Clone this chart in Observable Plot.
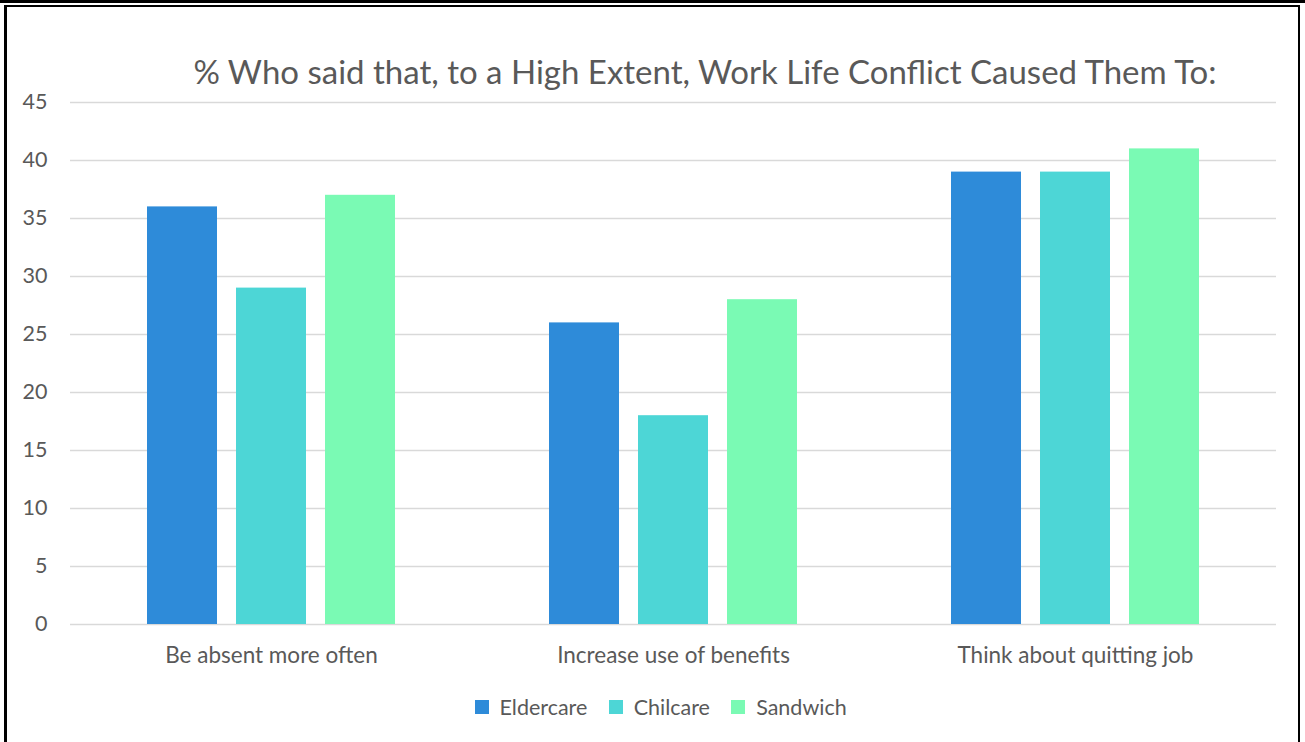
<!DOCTYPE html>
<html>
<head>
<meta charset="utf-8">
<script src="https://cdn.jsdelivr.net/npm/d3@7"></script>
<script src="https://cdn.jsdelivr.net/npm/@observablehq/plot@0.6"></script>
<style>
  html, body { margin: 0; padding: 0; background: #fff; }
  body { width: 1305px; height: 742px; position: relative; overflow: hidden; font-family: Lato, "Open Sans", sans-serif; }
  #topbar { position: absolute; left: 0; top: 0; width: 1305px; height: 3px; background: #000; }
  #frame { position: absolute; left: 4px; top: 5px; width: 1296px; height: 740px; border-top: 2px solid #000; border-left: 3px solid #000; border-right: 2px solid #000; box-sizing: border-box; }
  #title { position: absolute; left: 0; top: 51px; width: 1410px; text-align: center; font-size: 33px; color: #595959; white-space: nowrap; }
  #chart { position: absolute; left: 0; top: 78px; }
  #legend { position: absolute; left: 11px; top: 690px; width: 1321px; display: flex; justify-content: center; }
</style>
</head>
<body>
<div id="topbar"></div>
<div id="frame"></div>
<div id="title">% Who said that, to a High Extent, Work Life Conflict Caused Them To:</div>
<div id="chart"></div>
<div id="legend"></div>
<script>
const categories = ["Be absent more often", "Increase use of benefits", "Think about quitting job"];
const series = ["Eldercare", "Chilcare", "Sandwich"];
const eldercare = [36, 26, 39];
const chilcare = [29, 18, 39];
const sandwich = [37, 28, 41];
const yTicks = [0, 5, 10, 15, 20, 25, 30, 35, 40, 45];
const colors = ["#2E8BD9", "#4DD6D6", "#7AFAB4"];

const values = [eldercare, chilcare, sandwich];
const data = categories.flatMap((c, i) => series.map((s, j) => ({category: c, series: s, value: values[j][i]})));

const chart = Plot.plot({
  width: 1305,
  height: 612,
  marginTop: 24,
  marginLeft: 70,
  marginRight: 29,
  marginBottom: 66,
  style: {fontFamily: "Lato, 'Open Sans', sans-serif", color: "#595959", background: "transparent"},
  fx: {domain: categories, padding: 0, label: null},
  x: {domain: series, paddingInner: 0.2135, paddingOuter: 0.865, axis: null},
  y: {domain: [0, 45], label: null},
  color: {domain: series, range: colors},
  marks: [
    Plot.gridY(yTicks, {stroke: "#d9d9d9", strokeOpacity: 1, strokeWidth: 1.3}),
    Plot.barY(data, {fx: "category", x: "series", y: "value", fill: "series"}),
    Plot.axisY(yTicks, {tickSize: 0, tickPadding: 23, fontSize: 21.5, fill: "#595959", label: null}),
    Plot.axisFx({anchor: "bottom", tickSize: 0, tickPadding: 23, fontSize: 22.5, fill: "#595959", label: null})
  ]
});
document.getElementById("chart").appendChild(chart);

const legend = Plot.legend({
  color: {domain: series, range: colors},
  swatchSize: 14,
  style: {fontFamily: "Lato, 'Open Sans', sans-serif", fontSize: "21.5px", color: "#595959"}
});
document.getElementById("legend").appendChild(legend);
</script>
</body>
</html>
